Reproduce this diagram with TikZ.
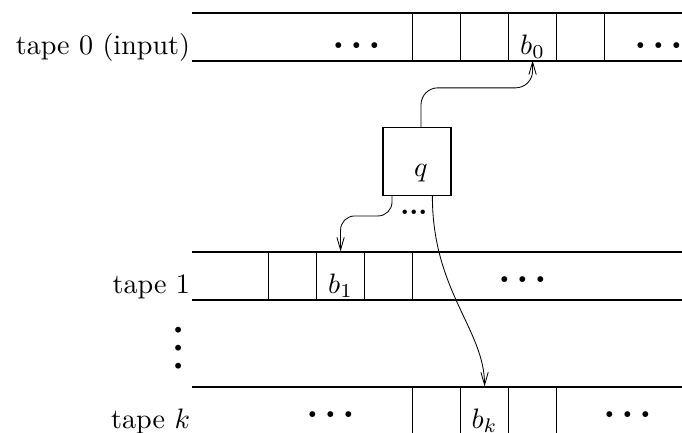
\documentclass[tikz,border=0pt]{standalone}
\usetikzlibrary{matrix,arrows.meta}
\newlength{\celllinewidth}
\setlength{\celllinewidth}{0.4pt}
% spaced dots for the unused parts of a tape
\newcommand{\tapedots}{{\Large\bfseries .\kern1.9pt.\kern1.9pt.}}

\tikzset{
  cell/.style={
    rectangle,draw,
    line width=\celllinewidth,
    inner sep=0pt,outer sep=0pt,
    minimum width=0.6cm,
    text height=0.52cm,text depth=0.08cm,
  },
  tape/.style={
    matrix of nodes,
    nodes in empty cells,
    inner sep=0pt,outer sep=0pt,
    column sep=-\celllinewidth,
    nodes={cell},
  },
  tapeline/.style={line width=\celllinewidth},
  tapename/.style={anchor=base east,inner sep=0.5pt},
  gap/.style={inner sep=1pt},
  head/.style={-{Straight Barb[length=4.5pt,width=2.6pt]},line width=0.3pt},
}

\begin{document}
\begin{tikzpicture}
    \useasboundingbox (0,0.0375) rectangle (8.525,5.4375);

    % left ends of the tapes
    \coordinate (t0) at (2.4,4.675);
    \coordinate (t1) at (2.4,1.6875);
    \coordinate (tk) at (2.4,0);
    \foreach \t in {t0,t1,tk}
        \draw[tapeline] (\t) -- ++(6.125,0) ([yshift=0.6cm]\t) -- ++(6.125,0);

    % cells around each head
    \matrix (tape0) [tape,anchor=south west] at (5.15,4.675)
    {
      &   & $b_0$ &   \\
    };
    \matrix (tape1) [tape,anchor=south west] at (3.35,1.6875)
    {
      & $b_1$ &   \\
    };
    \matrix (tapek) [tape,anchor=south west] at (5.15,0)
    {
      & $b_k$ &   \\
    };

    \node[tapename] (name0) at ([yshift=0.08cm]t0) {tape 0 (input)};
    \node[tapename] (name1) at ([yshift=0.08cm]t1) {tape 1};
    \node[tapename] (namek) at ([yshift=0.08cm]tk) {tape $k$};

    \node[gap] (dots0l) at (4.46,4.87) {\tapedots};
    \node[gap] (dots0r) at (8.24,4.87) {\tapedots};
    \node[gap] (dots1) at (6.54,1.94) {\tapedots};
    \node[gap] (dotskl) at (4.14,0.25) {\tapedots};
    \node[gap] (dotskr) at (7.85,0.25) {\tapedots};
    \node[gap,rotate=90] (moretapes) at (2.23,1.09) {\tapedots};

    % finite control
    \node[draw,line width=\celllinewidth,minimum size=0.85cm] (ctrl) at (5.2125,3.42) {};
    \node[anchor=base,inner sep=0pt] (state) at ([shift={(0.05,-0.195)}]ctrl.center) {$q$};
    \node[font=\bfseries] (moreheads) at ([shift={(-0.04,-0.21)}]ctrl.south) {...};

    % heads
    \draw[head,rounded corners=6pt] (state |- ctrl.north) -- ++(0,0.4875) -| (tape0-1-3.south);
    \draw[head,rounded corners=5pt] ([xshift=0.12cm]ctrl.south west) -- ++(0,-0.25) -| (tape1-1-2.north);
    \draw[head] ([xshift=-0.24cm]ctrl.south east) .. controls +(0,-1.19) and +(0,0.71) .. (tapek-1-2.north);
\end{tikzpicture}
\end{document}
